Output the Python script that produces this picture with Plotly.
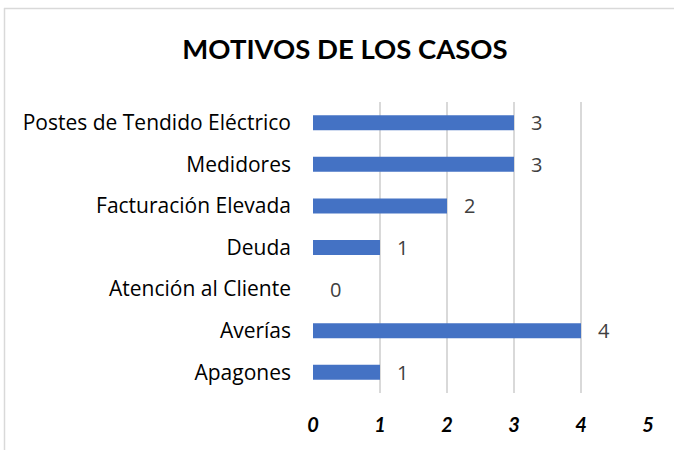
import plotly.graph_objects as go

categories = ["Apagones", "Averías", "Atención al Cliente", "Deuda",
              "Facturación Elevada", "Medidores", "Postes de Tendido Eléctrico"]
values = [1, 4, 0, 1, 2, 3, 3]
x_ticks = [0, 1, 2, 3, 4, 5]
title_text = "MOTIVOS DE LOS CASOS"

W, H = 674, 450
L, R, T, B = 313, 26, 102, 57
FONT = "Open Sans"
TFONT = "Lato"

fig = go.Figure()
fig.add_trace(go.Bar(
    x=values, y=categories, orientation="h",
    marker=dict(color="#4472C4", line=dict(width=0)),
    hoverinfo="skip",
))

annotations = []
for c, v in zip(categories, values):
    annotations.append(dict(
        x=v, y=c, xref="x", yref="y", text=str(v), showarrow=False,
        xanchor="left", yanchor="middle", xshift=15,
        font=dict(family=FONT, size=20, color="#404040"),
    ))

pw = W - L - R
ph = H - T - B
def px2paper_x(px):
    return (px - L) / pw
def py2paper_y(py):
    return 1 - (py - T) / ph

shapes = [
    dict(type="line", xref="paper", yref="paper",
         x0=px2paper_x(4), x1=px2paper_x(W), y0=py2paper_y(8.5), y1=py2paper_y(8.5),
         line=dict(color="#d9d9d9", width=1.5)),
    dict(type="line", xref="paper", yref="paper",
         x0=px2paper_x(4.5), x1=px2paper_x(4.5), y0=py2paper_y(8), y1=py2paper_y(H),
         line=dict(color="#d9d9d9", width=1.5)),
]

fig.update_layout(
    width=W, height=H,
    margin=dict(l=L, r=R, t=T, b=B),
    paper_bgcolor="white", plot_bgcolor="white",
    showlegend=False,
    bargap=0.64,
    title=dict(text="<b>" + title_text + "</b>", xref="container", x=345 / W,
               xanchor="center", yref="container", y=1 - 49 / H, yanchor="middle",
               font=dict(family=TFONT, size=27.5, color="black")),
    xaxis=dict(range=[0, 5], tickvals=x_ticks, ticktext=[str(t) for t in x_ticks],
               showgrid=True, gridcolor="#d9d9d9", gridwidth=1.5,
               zeroline=False, showline=False, ticks="",
               ticklabelstandoff=18,
               tickfont=dict(family=TFONT, size=20, color="black", weight="bold", style="italic")),
    yaxis=dict(showgrid=False, zeroline=False, showline=False, ticks="",
               ticklabelstandoff=21,
               tickfont=dict(family=FONT, size=21, color="black")),
    annotations=annotations,
    shapes=shapes,
)

fig.write_html("out.html", config={"displayModeBar": False},
               post_script="document.body.style.margin='0';document.body.style.overflow='hidden';")
